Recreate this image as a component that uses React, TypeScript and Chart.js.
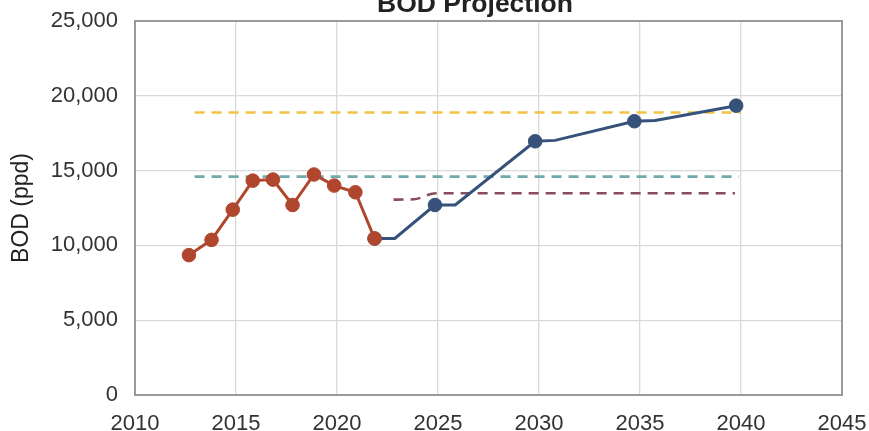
import React, { useEffect, useRef } from "react";
import { Chart, registerables } from "chart.js";

Chart.register(...registerables);

// ---- data ----
const chartTitle = "BOD Projection";
const yAxisTitle = "BOD (ppd)";

const xMin = 2010;
const xMax = 2045;
const xStep = 5;
const yMin = 0;
const yMax = 25000;
const yStep = 5000;

// historical BOD (red)
const historicYears = [2012.67, 2013.79, 2014.84, 2015.83, 2016.83, 2017.8, 2018.86, 2019.86, 2020.91, 2021.86];
const historicBOD = [9350, 10370, 12390, 14330, 14400, 12700, 14740, 14000, 13550, 10460];

// projected BOD (blue)
const projectedYears = [2021.86, 2022.86, 2024.85, 2025.85, 2029.81, 2030.8, 2034.72, 2035.75, 2039.76];
const projectedBOD = [10460, 10460, 12700, 12700, 16960, 17020, 18300, 18350, 19340];
const projectedMarked = [true, false, true, false, true, false, true, false, true];

// yellow dashed reference
const yellowYears = [2012.95, 2040.0];
const yellowBOD = [18880, 18880];

// teal dashed reference
const tealYears = [2012.95, 2039.9];
const tealBOD = [14600, 14600];

// maroon dashed reference
const maroonYears = [2022.8, 2023.8, 2024.9, 2039.7];
const maroonBOD = [13060, 13080, 13490, 13490];

const RED = "#B0462D";
const BLUE = "#36527A";
const YELLOW = "#F4C245";
const TEAL = "#70AAAA";
const MAROON = "#8A4B5E";

const FONT = '"Liberation Sans", Arial, sans-serif';

const toPoints = (xs: number[], ys: number[]) => xs.map((x, i) => ({ x, y: ys[i] }));

const frameAndTitle = {
  id: "frameAndTitle",
  beforeDatasetsDraw(chart: any) {
    const { ctx, chartArea } = chart;
    ctx.save();
    ctx.strokeStyle = "#9a9a9a";
    ctx.lineWidth = 2;
    ctx.strokeRect(chartArea.left, chartArea.top, chartArea.right - chartArea.left, chartArea.bottom - chartArea.top);
    ctx.restore();
  },
  afterDraw(chart: any) {
    const { ctx, chartArea } = chart;
    ctx.save();
    ctx.font = `bold 26.5px ${FONT}`;
    ctx.fillStyle = "#222222";
    ctx.textAlign = "center";
    ctx.textBaseline = "alphabetic";
    ctx.fillText(chartTitle, (chartArea.left + chartArea.right) / 2 - 13.5, 11.7);
    ctx.restore();
  },
};

export default function App() {
  const canvasRef = useRef<HTMLCanvasElement | null>(null);

  useEffect(() => {
    if (!canvasRef.current) return;
    const dashed = (label: string, xs: number[], ys: number[], color: string, extra: any = {}) => ({
      label,
      data: toPoints(xs, ys),
      borderColor: color,
      backgroundColor: color,
      borderWidth: 2.6,
      borderDash: [10, 7],
      pointRadius: 0,
      fill: false,
      ...extra,
    });

    const chart = new Chart(canvasRef.current, {
      type: "line",
      data: {
        datasets: [
          {
            label: "Historical",
            data: toPoints(historicYears, historicBOD),
            borderColor: RED,
            backgroundColor: RED,
            borderWidth: 3,
            pointRadius: 6.8,
            pointBorderWidth: 1,
            pointBorderColor: RED,
            pointBackgroundColor: RED,
            fill: false,
          },
          {
            label: "Projected",
            data: toPoints(projectedYears, projectedBOD),
            borderColor: BLUE,
            backgroundColor: BLUE,
            borderWidth: 3,
            pointRadius: projectedMarked.map((m) => (m ? 6.8 : 0)),
            pointBorderWidth: 1,
            pointBorderColor: BLUE,
            pointBackgroundColor: BLUE,
            fill: false,
          },
          dashed("Maroon", maroonYears, maroonBOD, MAROON, { cubicInterpolationMode: "monotone" }),
          dashed("Teal", tealYears, tealBOD, TEAL),
          dashed("Yellow", yellowYears, yellowBOD, YELLOW),
        ],
      },
      options: {
        animation: false,
        responsive: false,
        maintainAspectRatio: false,
        layout: { padding: { top: 21, right: 27, left: 0, bottom: 0 } },
        plugins: {
          legend: { display: false },
          title: { display: false },
          tooltip: { enabled: false },
        },
        scales: {
          x: {
            type: "linear",
            min: xMin,
            max: xMax,
            afterFit(scale: any) {
              scale.height = 36;
            },
            ticks: {
              stepSize: xStep,
              padding: 0,
              color: "#333333",
              font: { family: FONT, size: 22 },
              callback: (v: any) => String(v),
              maxRotation: 0,
            },
            grid: {
              color: "#d9d9d9",
              lineWidth: 1.3,
              drawTicks: true,
              tickLength: 16,
              tickColor: "rgba(0,0,0,0)",
            },
            border: { display: false },
          },
          y: {
            min: yMin,
            max: yMax,
            afterFit(scale: any) {
              scale.width = 135;
            },
            ticks: {
              stepSize: yStep,
              padding: 0,
              color: "#333333",
              font: { family: FONT, size: 22 },
              callback: (v: any) => Number(v).toLocaleString("en-US"),
            },
            grid: {
              color: "#d9d9d9",
              lineWidth: 1.3,
              drawTicks: true,
              tickLength: 17,
              tickColor: "rgba(0,0,0,0)",
            },
            border: { display: false },
            title: {
              display: true,
              text: yAxisTitle,
              color: "#222222",
              font: { family: FONT, size: 23 },
              padding: { top: 8, bottom: 0 },
            },
          },
        },
      },
      plugins: [frameAndTitle],
    });
    return () => chart.destroy();
  }, []);

  return (
    <div style={{ position: "absolute", left: 0, top: 0, width: 869, height: 431, background: "#ffffff" }}>
      <canvas ref={canvasRef} width={869} height={431} style={{ display: "block", width: 869, height: 431 }} />
    </div>
  );
}
